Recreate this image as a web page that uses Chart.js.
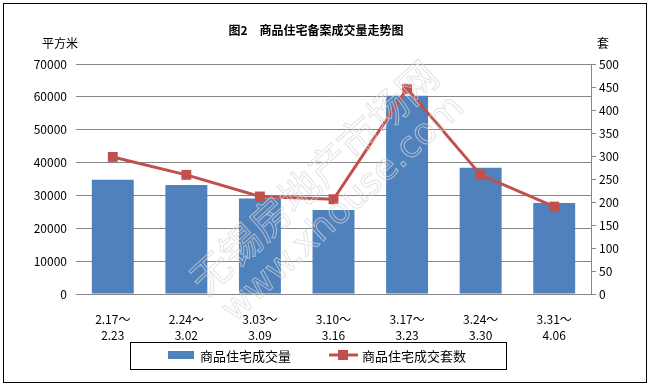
<!DOCTYPE html>
<html>
<head>
<meta charset="utf-8">
<script src="https://cdn.jsdelivr.net/npm/chart.js@4"></script>
<style>
  body { margin: 0; background: #fff; }
</style>
</head>
<body>
<canvas id="chart" width="651" height="387"></canvas>
<script>
const categories = [
  ["2.17～", "2.23"],
  ["2.24～", "3.02"],
  ["3.03～", "3.09"],
  ["3.10～", "3.16"],
  ["3.17～", "3.23"],
  ["3.24～", "3.30"],
  ["3.31～", "4.06"],
];
const areaValues = [34800, 33200, 29100, 25600, 60300, 38400, 27700];
const unitValues = [298, 259, 212, 206, 446, 259, 190];
const seriesNames = ["商品住宅成交量", "商品住宅成交套数"];
const chartTitle = "图2　商品住宅备案成交量走势图";
const leftUnit = "平方米";
const rightUnit = "套";
const watermark = ["无锡房地产市场网", "www.xhouse.com"];

const FONT = "'Noto Sans CJK SC', sans-serif";
const BLUE = "#4F81BD";
const RED = "#C0504D";
const GRID = "#868686";

Chart.defaults.font.family = FONT;
Chart.defaults.font.size = 12;
Chart.defaults.color = "#000";

// title, units, legend box, watermark, outer border
const extras = {
  id: "extras",
  afterDatasetsDraw(chart) {
    const ctx = chart.ctx;
    ctx.save();
    ctx.translate(322, 186);
    ctx.rotate(-Math.PI / 4 + 0.04);
    ctx.textAlign = "center";
    ctx.textBaseline = "middle";
    ctx.lineWidth = 1;
    ctx.strokeStyle = "rgba(215,215,215,0.7)";
    ctx.font = "40px " + FONT;
    ctx.strokeText(watermark[0], 0, -12);
    ctx.font = "36px 'DejaVu Sans', sans-serif";
    ctx.strokeText(watermark[1], 0, 32);
    ctx.restore();
  },
  afterDraw(chart) {
    const ctx = chart.ctx;
    ctx.save();
    ctx.fillStyle = "#000";
    ctx.textBaseline = "middle";

    ctx.font = "bold 12px " + FONT;
    ctx.textAlign = "center";
    ctx.fillText(chartTitle, 316, 30);

    ctx.font = "12px " + FONT;
    ctx.fillText(leftUnit, 60, 43);
    ctx.fillText(rightUnit, 603, 43);

    // legend
    ctx.strokeStyle = "#000";
    ctx.lineWidth = 1;
    ctx.strokeRect(130.5, 342.5, 376, 27);
    ctx.fillStyle = BLUE;
    ctx.fillRect(168, 351, 26, 8);
    ctx.strokeStyle = RED;
    ctx.lineWidth = 3;
    ctx.beginPath();
    ctx.moveTo(329, 355);
    ctx.lineTo(358, 355);
    ctx.stroke();
    ctx.fillStyle = RED;
    ctx.fillRect(338, 350, 10, 10);
    ctx.fillStyle = "#000";
    ctx.font = "13px " + FONT;
    ctx.textAlign = "left";
    ctx.fillText(seriesNames[0], 200, 356);
    ctx.fillText(seriesNames[1], 362, 356);

    ctx.strokeStyle = "#000";
    ctx.lineWidth = 1;
    ctx.strokeRect(3.5, 3.5, 643, 379);
    ctx.restore();
  },
};

new Chart(document.getElementById("chart"), {
  type: "bar",
  data: {
    labels: categories,
    datasets: [
      {
        type: "line",
        label: seriesNames[1],
        data: unitValues,
        yAxisID: "y1",
        borderColor: RED,
        borderWidth: 3,
        backgroundColor: RED,
        pointStyle: "rect",
        pointRadius: 7,
        pointBackgroundColor: RED,
        pointBorderColor: RED,
        pointBorderWidth: 0,
        tension: 0,
        order: 0,
      },
      {
        label: seriesNames[0],
        data: areaValues,
        yAxisID: "y",
        backgroundColor: BLUE,
        categoryPercentage: 1,
        barPercentage: 0.57,
        order: 1,
      },
    ],
  },
  options: {
    responsive: false,
    animation: false,
    layout: { padding: { top: 64, bottom: 0, left: 0, right: 0 } },
    plugins: {
      legend: { display: false },
      title: { display: false },
      tooltip: { enabled: false },
    },
    scales: {
      x: {
        grid: { display: false },
        border: { display: true, color: GRID },
        ticks: { padding: 9, maxRotation: 0, font: { size: 12, lineHeight: 1.35 } },
        afterFit: (scale) => { scale.height = 93; },
      },
      y: {
        position: "left",
        min: 0,
        max: 70000,
        ticks: { stepSize: 10000, padding: 9, callback: (v) => String(v) },
        grid: { color: GRID, drawTicks: false },
        border: { display: false },
        afterFit: (scale) => { scale.width = 76; },
      },
      y1: {
        position: "right",
        min: 0,
        max: 500,
        ticks: { stepSize: 50, padding: 3, callback: (v) => String(v) },
        grid: { drawOnChartArea: false, color: GRID, tickLength: 5 },
        border: { display: true, color: GRID },
        afterFit: (scale) => { scale.width = 60; },
      },
    },
  },
  plugins: [extras],
});
</script>
</body>
</html>
